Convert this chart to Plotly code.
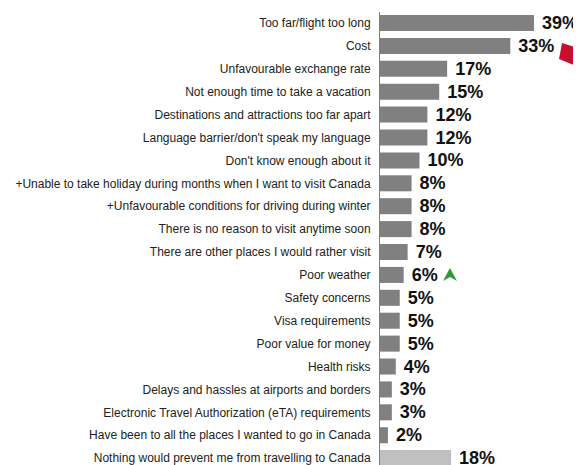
import plotly.graph_objects as go

categories = [
    "Too far/flight too long",
    "Cost",
    "Unfavourable exchange rate",
    "Not enough time to take a vacation",
    "Destinations and attractions too far apart",
    "Language barrier/don't speak my language",
    "Don't know enough about it",
    "+Unable to take holiday during months when I want to visit Canada",
    "+Unfavourable conditions for driving during winter",
    "There is no reason to visit anytime soon",
    "There are other places I would rather visit",
    "Poor weather",
    "Safety concerns",
    "Visa requirements",
    "Poor value for money",
    "Health risks",
    "Delays and hassles at airports and borders",
    "Electronic Travel Authorization (eTA) requirements",
    "Have been to all the places I wanted to go in Canada",
    "Nothing would prevent me from travelling to Canada",
]
values = [39, 33, 17, 15, 12, 12, 10, 8, 8, 8, 7, 6, 5, 5, 5, 4, 3, 3, 2, 18]
labels = [f" {v}%" for v in values]
colors = ["#808080"] * 19 + ["#c0c0c0"]

# the page body has an 8px margin; compensate so the picture lands in place
OFF = 8
W, H = 581 - OFF, 465 - OFF
L, T = 380 - OFF, 12 - OFF
pw, ph = W - L, H - T

def px(x):
    return (x - OFF - L) / pw

def py(y):
    return (H - (y - OFF)) / ph

fig = go.Figure(go.Bar(
    x=values, y=categories, orientation="h",
    marker=dict(color=colors, line=dict(width=0)),
    text=labels, textposition="outside", cliponaxis=False, constraintext="none",
    textfont=dict(family="Liberation Sans, Arial", size=18, color="#111111", weight="bold"),
    width=0.7,
))

fig.update_layout(
    width=W, height=H,
    margin=dict(l=L, r=0, t=T, b=0, autoexpand=False),
    paper_bgcolor="white", plot_bgcolor="white",
    showlegend=False,
    font=dict(family="Liberation Sans, Arial", size=12, color="#222222"),
    xaxis=dict(range=[0, 50.9], visible=False, fixedrange=True, automargin=False),
    yaxis=dict(
        range=[19.3, -0.48], showline=True, linecolor="#7f7f7f", linewidth=1,
        ticks="", ticklabelstandoff=6, showgrid=False, zeroline=False, automargin=False,
        tickfont=dict(size=12, color="#222222"),
    ),
    shapes=[
        dict(type="path", xref="paper", yref="paper",
             path=f"M {px(562)},{py(43)} L {px(581)},{py(49)} L {px(581)},{py(68)} L {px(559)},{py(59)} Z",
             fillcolor="#c8102e", line=dict(width=0)),
        dict(type="path", xref="paper", yref="paper",
             path=f"M {px(450)},{py(268)} L {px(457)},{py(281)} L {px(450)},{py(277)} L {px(443)},{py(281)} Z",
             fillcolor="#2e9a3a", line=dict(width=0)),
    ],
)

fig.write_html("out.html")
